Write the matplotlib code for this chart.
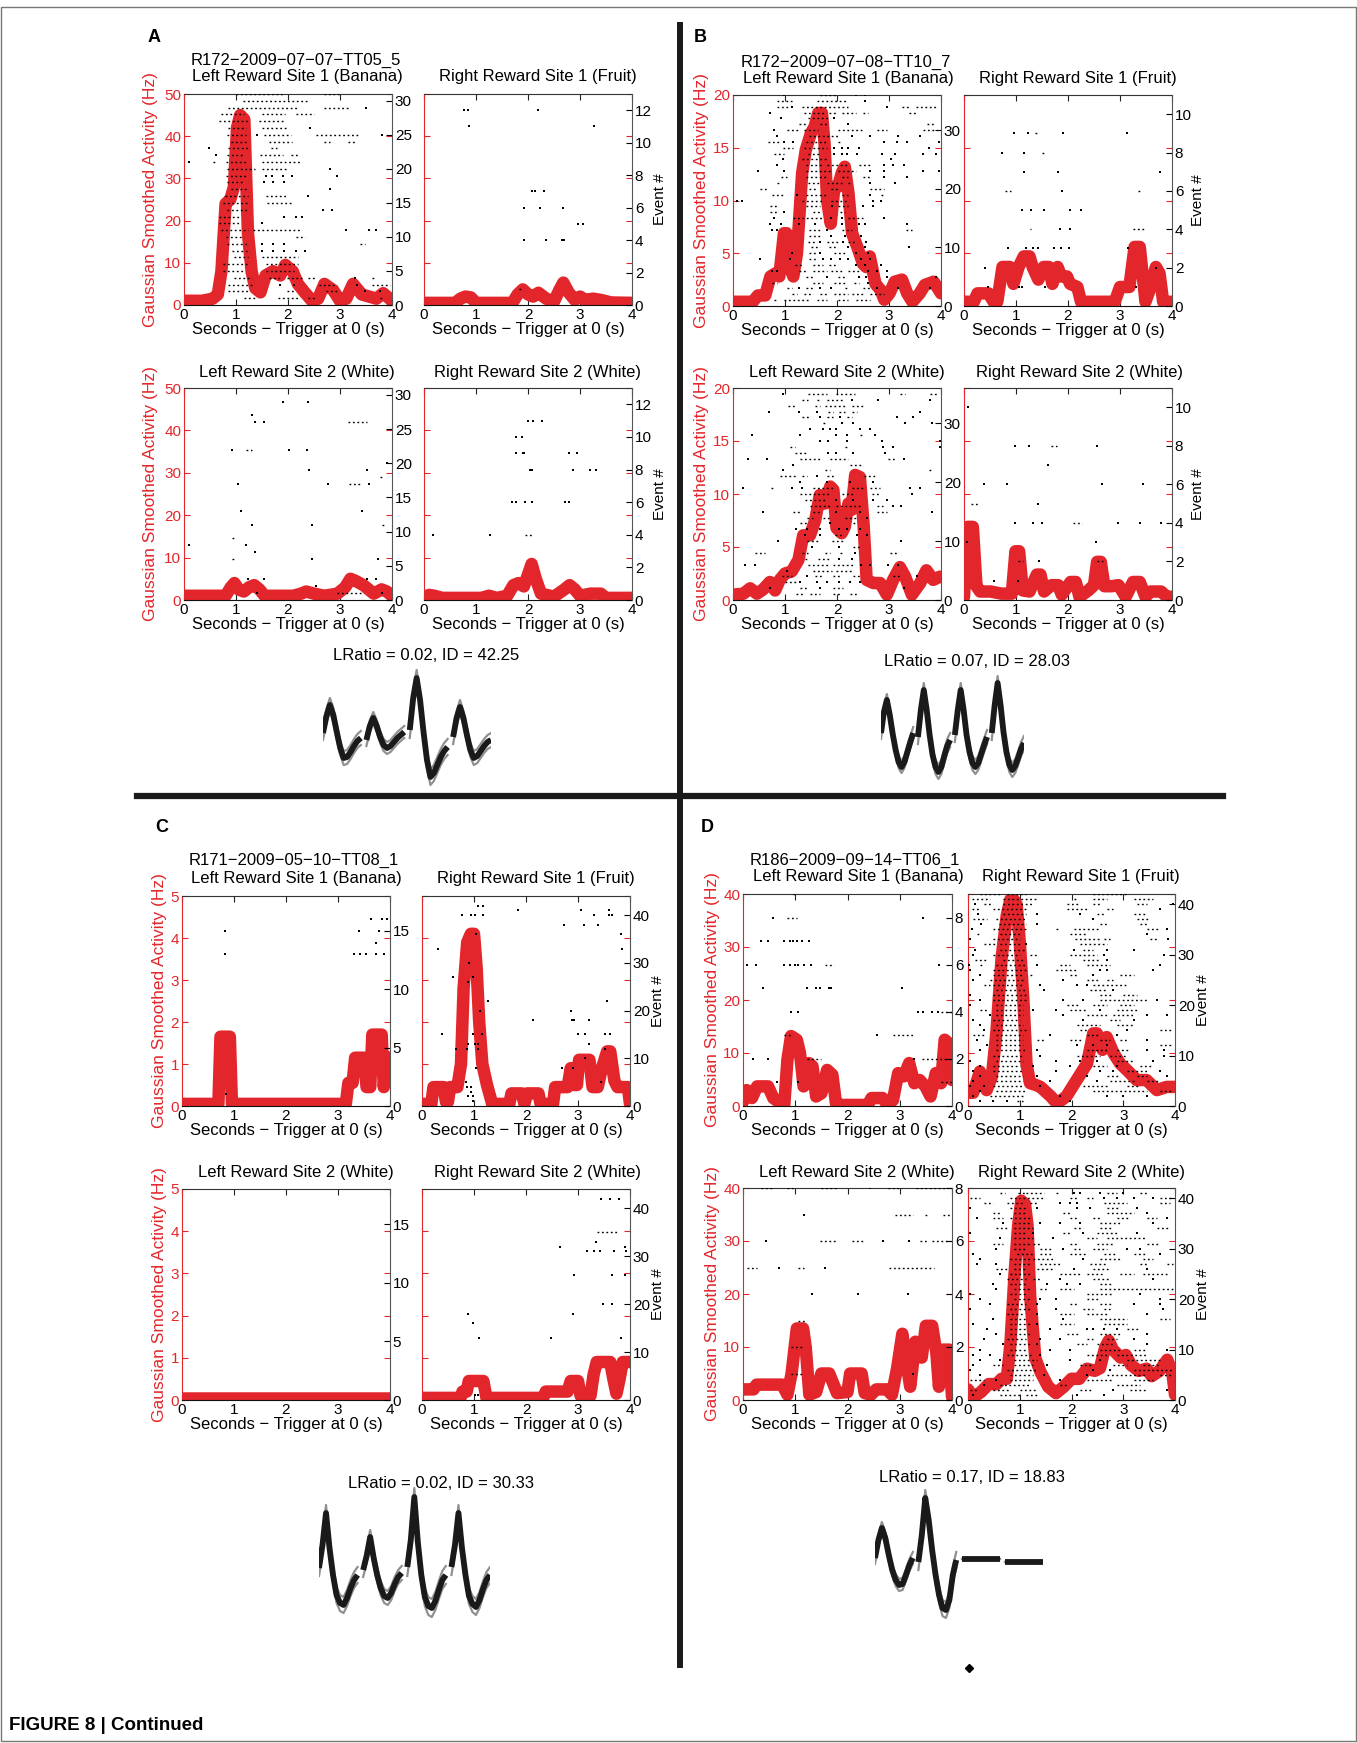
import matplotlib.pyplot as plt
from matplotlib.patches import Rectangle
from matplotlib.lines import Line2D

plt.rcParams['font.family'] = ['Liberation Sans', 'DejaVu Sans']

W, H = 1357, 1743
RED = '#e3262b'
FS = 11      # tick labels
FT = 12      # titles / axis labels
MINUS = '\u2212'

# ---------------- smoothed rate curves (Hz) ----------------
a_l1_t = [0, 0.35, 0.55, 0.65, 0.72, 0.8, 0.89, 0.96, 1.02, 1.08, 1.16, 1.23, 1.3, 1.37, 1.47, 1.57, 1.71, 1.85,
          1.95, 2.09, 2.19, 2.32, 2.46, 2.58, 2.7, 2.87, 3.0, 3.12, 3.25, 3.42, 3.56, 3.7, 3.83, 4.0]
a_l1_r = [1, 1, 1.5, 2.5, 8, 24, 25, 28, 42, 45, 44, 17, 8, 4, 3, 7, 8, 7, 9.5, 8, 5, 3, 1, 1.5, 5, 3.5, 1, 1.5,
          5, 2.5, 2, 1.5, 2.8, 1]
a_r1_t = [0, 0.6, 0.7, 0.8, 0.9, 1.0, 1.7, 1.8, 1.9, 2.0, 2.1, 2.2, 2.35, 2.5, 2.6, 2.68, 2.78, 2.9, 3.0, 3.1,
          3.25, 3.4, 3.6, 4.0]
a_r1_r = [0.5, 0.5, 1.5, 2, 1.8, 0.5, 0.5, 2.5, 3.7, 2.5, 2, 2.9, 1.5, 0.8, 3.5, 5.3, 3, 1.2, 2, 1.2, 1.5, 1.2,
          0.6, 0.5]
a_l2_t = [0, 0.8, 0.9, 0.97, 1.05, 1.15, 1.25, 1.35, 1.45, 1.55, 1.8, 2.1, 2.25, 2.35, 2.5, 2.7, 2.95, 3.1, 3.2,
          3.3, 3.45, 3.55, 3.65, 3.8, 3.9, 4.0]
a_l2_r = [1, 1, 3, 4, 2.5, 2, 3, 3.5, 2.5, 1, 1, 1, 1.5, 2, 1.5, 1, 1.5, 3, 5, 4.5, 3.5, 2.5, 1.5, 2.5, 2, 1]
a_r2_t = [0, 0.1, 0.2, 0.35, 1.1, 1.25, 1.4, 1.6, 1.72, 1.82, 1.92, 2.0, 2.07, 2.15, 2.25, 2.5, 2.7, 2.8, 2.9,
          3.0, 3.2, 3.4, 3.5, 4.0]
a_r2_r = [0.7, 1.2, 1, 0.5, 0.5, 1, 0.5, 1, 3.5, 4, 3.2, 6, 8.5, 5, 1.5, 0.8, 2.5, 3.5, 2.5, 1, 1.5, 1.5, 0.5, 0.5]

b_l1_t = [0, 0.38, 0.48, 0.62, 0.72, 0.82, 0.89, 0.98, 1.03, 1.09, 1.16, 1.23, 1.33, 1.4, 1.5, 1.57, 1.64, 1.71,
          1.76, 1.81, 1.88, 1.95, 2.02, 2.09, 2.15, 2.22, 2.29, 2.39, 2.5, 2.56, 2.63, 2.74, 2.84, 2.91, 3.01,
          3.11, 3.25, 3.35, 3.45, 3.59, 3.69, 3.86, 4.0]
b_l1_r = [0.4, 0.4, 1, 1, 2.8, 3.1, 2.8, 6.9, 6.9, 3.7, 2.8, 5, 12.6, 14.8, 16.4, 17, 18.3, 18.3, 15.4, 10, 7.8,
          11.3, 11.3, 12.6, 13.2, 10.7, 6.9, 5.6, 4, 3.7, 4.7, 2.1, 1.5, 0.6, 1.2, 2.3, 2.5, 1.2, 0.4, 1.2, 2,
          2.3, 1.2]
b_r1_t = [0, 0.19, 0.26, 0.47, 0.57, 0.64, 0.74, 0.88, 0.95, 1.05, 1.15, 1.26, 1.32, 1.43, 1.53, 1.63, 1.7, 1.8,
          1.87, 1.98, 2.04, 2.18, 2.25, 2.9, 3.0, 3.18, 3.28, 3.38, 3.49, 3.59, 3.69, 3.76, 3.83, 4.0]
b_r1_r = [0.4, 0.4, 1.2, 1.2, 0.4, 0.4, 3.7, 3.7, 2.1, 3.7, 4.7, 4.7, 3.7, 2.5, 3.7, 3.7, 2.1, 3.7, 2.8, 2.8,
          2.1, 1.8, 0.4, 0.4, 1.8, 1.8, 5.6, 5.6, 0.4, 1.8, 3.7, 3.1, 0.4, 0.4]
b_l2_t = [0, 0.2, 0.33, 0.46, 0.58, 0.71, 0.81, 0.9, 1.0, 1.13, 1.26, 1.35, 1.48, 1.58, 1.67, 1.77, 1.87, 1.93,
          1.99, 2.09, 2.15, 2.22, 2.28, 2.35, 2.44, 2.51, 2.57, 2.7, 2.83, 2.96, 3.08, 3.21, 3.31, 3.44, 3.6,
          3.72, 3.85, 3.98]
b_l2_r = [0.5, 0.6, 1.1, 0.6, 1, 1.7, 0.9, 1.9, 2.5, 2.7, 3.8, 6.1, 6.1, 7.5, 9.9, 9.1, 10.7, 10.4, 6.8, 6.3,
          6.9, 9.1, 8.5, 11.8, 11.6, 7.2, 1.9, 1.6, 1.6, 0.5, 1.9, 3.1, 2.2, 0.5, 1.6, 2.8, 1.9, 2.2]
b_r2_t = [0, 0.07, 0.17, 0.24, 0.31, 0.51, 0.72, 0.92, 0.99, 1.06, 1.13, 1.26, 1.4, 1.47, 1.54, 1.68, 1.81, 1.88,
          2.05, 2.15, 2.22, 2.39, 2.5, 2.56, 2.63, 2.7, 2.84, 2.97, 3.11, 3.25, 3.38, 3.49, 3.59, 3.79, 3.9, 4.0]
b_r2_r = [0.3, 6.9, 6.9, 1.3, 0.8, 0.8, 0.6, 0.6, 4.6, 4.6, 0.9, 0.8, 2.4, 2.4, 0.8, 1.4, 1.4, 0.5, 1.7, 1.7,
          0.3, 0.9, 1.4, 3.6, 3.6, 1.3, 1.3, 1.4, 0.3, 1.7, 1.7, 0.3, 0.8, 0.8, 0.3, 0.3]

c_l1_t = [0, 0.7, 0.74, 0.92, 0.96, 3.15, 3.2, 3.28, 3.33, 3.5, 3.55, 3.62, 3.66, 3.84, 3.88, 3.94, 4.0]
c_l1_r = [0.05, 0.05, 1.65, 1.65, 0.05, 0.05, 0.55, 0.55, 1.15, 1.15, 0.45, 0.45, 1.7, 1.7, 0.45, 1.15, 1.15]
c_r1_t = [0, 0.18, 0.22, 0.42, 0.46, 0.5, 0.54, 0.68, 0.75, 0.8, 0.87, 0.94, 1.0, 1.05, 1.1, 1.16, 1.25, 1.35,
          1.68, 1.72, 1.92, 1.97, 2.02, 2.24, 2.28, 2.52, 2.56, 2.8, 2.86, 2.92, 2.98, 3.02, 3.22, 3.28, 3.38,
          3.46, 3.56, 3.62, 3.7, 3.76, 3.96, 4.0]
c_r1_r = [0.05, 0.05, 0.45, 0.45, 0.1, 0.1, 0.45, 0.45, 1.0, 2.8, 3.9, 4.1, 4.1, 3.3, 2.0, 1.0, 0.5, 0.05, 0.05,
          0.3, 0.3, 0.05, 0.3, 0.3, 0.05, 0.05, 0.45, 0.45, 0.9, 0.5, 0.5, 1.1, 1.1, 0.45, 0.45, 0.9, 1.3, 1.3,
          0.6, 0.45, 0.45, 0.05]
c_l2_t = [0, 4.0]
c_l2_r = [0.05, 0.05]
c_r2_t = [0, 0.74, 0.78, 0.86, 0.9, 1.18, 1.24, 2.33, 2.38, 2.8, 2.86, 3.0, 3.05, 3.24, 3.3, 3.36, 3.44, 3.62,
          3.68, 3.74, 3.8, 3.86, 4.0]
c_r2_r = [0.05, 0.05, 0.2, 0.2, 0.45, 0.45, 0.05, 0.05, 0.2, 0.2, 0.45, 0.45, 0.1, 0.1, 0.6, 0.9, 0.9, 0.9, 0.5,
          0.15, 0.5, 0.9, 0.9]

d_l1_t = [0, 0.07, 0.17, 0.27, 0.48, 0.58, 0.68, 0.79, 0.85, 0.92, 1.03, 1.09, 1.16, 1.26, 1.33, 1.4, 1.5, 1.61,
          1.71, 1.78, 1.85, 2.39, 2.46, 2.67, 2.77, 2.87, 2.97, 3.08, 3.18, 3.28, 3.38, 3.49, 3.59, 3.69, 3.79,
          3.86, 3.93, 4.0]
d_l1_r = [0.8, 3, 1.5, 3.7, 3.7, 1.5, 0.8, 0.2, 8.7, 13.2, 12.5, 10, 3.7, 8.1, 7.5, 1.8, 2.4, 6.8, 5.9, 0.5,
          0.2, 0.2, 1.5, 1.5, 0.2, 1.1, 6.2, 5.6, 8.1, 4.3, 4.9, 3.7, 1.8, 6.2, 4.3, 12.5, 11.9, 4.9]
d_r1_t = [0, 0.1, 0.23, 0.36, 0.46, 0.55, 0.65, 0.75, 0.82, 0.88, 0.94, 1.0, 1.07, 1.13, 1.2, 1.3, 1.4, 1.6, 1.72,
          1.9, 2.1, 2.3, 2.42, 2.49, 2.6, 2.68, 2.81, 2.94, 3.07, 3.26, 3.45, 3.65, 3.84, 4.0]
d_r1_r = [2.5, 2.5, 6.5, 3, 5.5, 14, 28, 36, 39, 39, 38, 31, 20, 8, 4.3, 4, 3.6, 1.8, 0.5, 1.8, 4.9, 8, 13.7,
          13.7, 10.6, 13, 10, 8, 6.8, 4.9, 4.9, 3, 3.6, 3.6]
d_l2_t = [0, 0.2, 0.26, 0.75, 0.85, 0.93, 1.03, 1.15, 1.2, 1.27, 1.4, 1.5, 1.65, 1.8, 2.0, 2.05, 2.27, 2.33, 2.45,
          2.55, 2.75, 2.85, 2.95, 3.05, 3.13, 3.2, 3.3, 3.42, 3.5, 3.62, 3.7, 3.75, 3.82, 3.95, 4.0]
d_l2_r = [2, 2, 2.9, 2.9, 1, 5, 13.5, 13.5, 10, 1, 1.5, 5, 5, 1.3, 1.5, 5, 5, 1.3, 1, 2, 2, 1, 6, 12.5, 7, 2.5,
          11, 8, 14, 14, 9, 2.5, 9.5, 9.5, 0.6]
d_r2_t = [0, 0.1, 0.25, 0.4, 0.55, 0.65, 0.75, 0.82, 0.9, 0.97, 1.03, 1.1, 1.15, 1.2, 1.3, 1.4, 1.55, 1.7, 1.85,
          2.0, 2.15, 2.3, 2.45, 2.55, 2.65, 2.72, 2.8, 2.95, 3.05, 3.15, 3.3, 3.45, 3.55, 3.7, 3.85, 3.95, 4.0]
d_r2_r = [2, 0.5, 1.5, 3, 3, 4, 4, 10.6, 23.8, 33, 37.6, 37, 33, 19.8, 7.9, 5.3, 2.5, 1.3, 2.5, 4, 4, 5.9, 5.5,
          6, 9.9, 11.2, 9.5, 8, 8.5, 6.6, 5.5, 5.9, 4.5, 5.5, 7.6, 5, 1]

# ---------------- spike rasters: (event, t) single spike, (event, t0, t1) burst ----------------
a_l1_spk = [(31, 1.0, 1.9), (31, 2.7, 3.0), (30, 1.13, 2.36), (29, 0.85, 2.2), (29, 2.7, 3.2), (29, 3.5),
            (28, 0.72, 1.16), (28, 1.5, 1.95), (28, 2.15, 2.5), (27, 0.68, 1.23), (27, 1.44, 1.95),
            (26, 0.85, 1.2), (26, 1.5, 2.0), (26, 2.43), (25, 0.82, 1.2), (25, 1.4), (25, 1.54, 2.05),
            (25, 2.53, 3.35), (25, 3.8), (24, 0.9, 1.23), (24, 1.64, 2.08), (24, 2.7, 2.8), (24, 3.15, 3.28),
            (23, 0.48), (23, 0.85, 1.23), (23, 1.68, 1.78), (22, 0.62), (22, 0.82, 1.16), (22, 1.47, 1.9),
            (22, 2.05, 2.19), (21, 0.1), (21, 0.55, 0.62), (21, 0.8, 1.23), (21, 1.5, 2.25), (20, 0.82, 1.37),
            (20, 1.5, 1.98), (20, 2.8), (19, 0.8, 1.23), (19, 1.57), (19, 1.7), (19, 1.9), (19, 2.08),
            (19, 2.94), (18, 0.82, 1.16), (18, 1.54), (18, 1.71), (18, 1.92), (17, 0.9, 1.23), (17, 2.8),
            (16, 0.78, 1.23), (16, 1.57, 1.98), (16, 2.39), (15, 0.75, 1.23), (15, 1.6, 2.05), (14, 0.82, 1.23),
            (14, 2.67), (14, 2.84), (13, 0.68, 1.1), (13, 1.92), (13, 2.15), (13, 2.26), (12, 0.68, 1.1),
            (12, 1.5), (11, 0.72, 1.23), (11, 1.33, 2.26), (11, 3.11), (11, 3.56), (11, 3.69), (10, 0.8, 1.16),
            (10, 2.15, 2.33), (9, 0.82, 1.23), (9, 1.5), (9, 1.71), (9, 1.92), (9, 3.38, 3.49), (8, 0.92, 1.23),
            (8, 1.5), (8, 1.71), (8, 1.92), (8, 2.15), (8, 2.33), (7, 0.96, 1.23), (7, 1.5, 2.19),
            (6, 0.75, 1.23), (6, 1.57, 2.19), (5, 0.75, 1.16), (5, 1.57, 2.12), (4, 0.96, 1.3), (4, 1.64, 1.85),
            (4, 1.98, 2.26), (4, 2.39, 2.53), (4, 3.28), (4, 3.62, 3.69), (3, 0.85, 1.3), (3, 1.85), (3, 2.12),
            (3, 2.6, 2.94), (3, 3.32), (3, 3.62, 3.97), (2, 0.85, 1.23), (2, 1.98, 2.12), (2, 2.74, 2.94),
            (2, 3.49), (2, 3.76), (1, 1.16, 1.37), (1, 1.81, 2.19), (1, 2.39, 2.53), (1, 3.76, 3.83)]
a_r1_spk = [(12, 0.77), (12, 0.84), (12, 2.19), (11, 0.86), (11, 3.27), (7, 2.07), (7, 2.14), (7, 2.3),
            (6, 1.93), (6, 2.24), (6, 2.68), (5, 2.96), (5, 3.05), (4, 1.93), (4, 2.34), (4, 2.65), (4, 2.7),
            (1, 1.83, 1.9)]
a_l2_spk = [(29, 1.91), (29, 2.39), (27, 1.3), (26, 1.37), (26, 1.54), (26, 3.15, 3.52), (22, 0.92),
            (22, 1.2, 1.3), (22, 2.02), (22, 2.37), (20, 3.9), (19, 2.41), (19, 3.52), (18, 3.76, 3.83),
            (17, 1.03), (17, 2.77), (17, 3.18, 3.42), (17, 3.56), (13, 1.09), (13, 3.42), (11, 1.3), (11, 2.46),
            (11, 3.8, 3.86), (9, 0.92, 0.99), (8, 0.1), (8, 1.2), (7, 1.37), (6, 0.92, 0.99), (6, 2.46),
            (6, 3.73), (3, 1.23), (3, 1.54), (3, 3.52), (3, 3.69), (2, 2.53), (1, 1.4), (1, 2.94, 3.42),
            (1, 3.8)]
a_r2_spk = [(11, 2.0), (11, 2.1), (11, 2.27), (10, 1.76), (10, 1.88), (9, 1.77), (9, 1.9), (9, 1.93),
            (9, 2.79), (9, 2.94), (8, 2.03), (8, 2.07), (8, 2.86), (8, 3.2), (8, 3.3), (6, 1.69), (6, 1.76),
            (6, 1.95), (6, 2.07), (6, 2.72), (6, 2.79), (4, 0.17), (4, 1.27), (4, 1.95, 2.1)]

b_l1_spk = [(36, 0.99), (36, 1.68, 2.02), (36, 2.36), (36, 2.53), (35, 0.85, 1.13), (35, 1.61, 2.22), (35, 2.53),
            (34, 0.85, 1.06), (34, 1.13), (34, 1.33, 2.22), (34, 2.97), (34, 3.25, 3.38), (34, 3.52, 3.93),
            (33, 0.72), (33, 1.37, 1.78), (33, 1.85, 1.98), (33, 2.09, 2.36), (33, 2.5, 2.6), (33, 3.38, 3.52),
            (32, 0.92), (32, 1.44, 1.85), (32, 1.95), (31, 1.26, 1.4), (31, 1.68, 1.81), (31, 2.22),
            (31, 3.73, 3.86), (30, 0.79), (30, 1.03, 1.26), (30, 1.37, 1.64), (30, 2.02, 2.5), (30, 2.77, 2.97),
            (30, 3.66, 3.93), (29, 0.85), (29, 1.47, 2.05), (29, 2.29), (29, 2.63), (29, 3.18), (29, 3.59),
            (28, 0.68, 0.92), (28, 0.99), (28, 1.16), (28, 1.4, 1.81), (28, 2.02, 2.09), (28, 2.91), (28, 3.15),
            (28, 3.35), (28, 3.97), (27, 0.96, 1.16), (27, 1.37, 1.81), (27, 1.95), (27, 2.09), (27, 2.22),
            (27, 2.43), (27, 3.76), (26, 0.79, 0.99), (26, 1.44, 1.68), (26, 1.95), (26, 2.09), (26, 2.19),
            (26, 2.39), (26, 2.87), (26, 3.11), (26, 3.66), (26, 3.9), (25, 0.96), (25, 1.33, 1.81), (25, 3.04),
            (24, 0.85), (24, 1.4, 1.74), (24, 1.81, 2.22), (24, 2.43, 2.63), (24, 2.91), (24, 3.08), (24, 3.28),
            (23, 0.48), (23, 0.99), (23, 1.4, 1.88), (23, 2.02, 2.36), (23, 2.63), (23, 2.91), (23, 3.66),
            (23, 3.97), (22, 0.92, 1.03), (22, 1.4, 1.81), (22, 2.09, 2.22), (22, 2.5, 2.63), (22, 2.91),
            (22, 3.35), (21, 0.85, 0.92), (21, 1.44, 1.68), (21, 1.81, 2.09), (21, 2.22, 2.29), (21, 2.63),
            (21, 3.11), (20, 0.51, 0.68), (20, 1.47, 1.61), (20, 1.88, 2.02), (20, 2.63, 2.91), (19, 0.75, 0.96),
            (19, 1.23), (19, 1.4, 1.81), (19, 2.09, 2.22), (19, 2.63), (19, 2.84, 2.91), (18, 0.07), (18, 0.17),
            (18, 1.33, 1.74), (18, 1.88, 2.22), (18, 2.7), (18, 2.84), (17, 0.72, 0.85), (17, 1.4, 1.68),
            (17, 1.91), (17, 2.02, 2.22), (17, 2.5), (17, 2.7), (16, 0.72, 0.85), (16, 0.99), (16, 1.54, 1.68),
            (16, 2.05, 2.15), (15, 0.79), (15, 1.16, 1.74), (15, 1.88), (15, 2.09), (15, 2.22, 2.5), (15, 2.91),
            (14, 0.72), (14, 0.92), (14, 1.26), (14, 1.57), (14, 2.09), (14, 2.43), (14, 2.53), (14, 3.35),
            (13, 0.75), (13, 0.85), (13, 1.47, 1.68), (13, 1.81), (13, 2.09, 2.29), (13, 3.32, 3.45),
            (12, 1.47, 1.68), (12, 1.88), (12, 2.15), (12, 2.46), (11, 1.44, 1.61), (11, 1.68), (11, 1.81, 2.02),
            (11, 2.12), (11, 2.22, 2.36), (11, 2.56), (10, 1.5, 1.68), (10, 1.85, 2.02), (10, 2.22), (10, 2.53),
            (10, 3.38), (9, 1.13), (9, 1.47, 1.61), (9, 1.68), (9, 1.95, 2.15), (9, 2.36), (9, 2.6), (8, 0.51),
            (8, 1.09), (8, 1.47, 1.61), (8, 1.74), (8, 1.88), (8, 2.05), (8, 2.22), (8, 2.46), (8, 2.63),
            (7, 1.2, 1.33), (7, 1.54, 1.74), (7, 1.85, 2.02), (7, 2.36), (7, 2.53), (7, 2.84), (6, 0.75),
            (6, 0.85), (6, 1.26, 1.4), (6, 1.54, 1.81), (6, 1.88, 2.09), (6, 2.22, 2.43), (6, 2.6), (6, 2.77),
            (6, 2.97), (5, 1.4, 1.54), (5, 1.81), (5, 2.02, 2.15), (5, 2.43), (5, 2.56), (5, 2.97), (5, 3.9),
            (4, 0.75, 0.85), (4, 1.54, 1.74), (4, 1.95, 2.15), (4, 2.32, 2.43), (4, 2.6), (3, 1.03, 1.13),
            (3, 1.26), (3, 1.4, 1.54), (3, 1.68), (3, 1.88), (3, 2.15, 2.22), (3, 2.5, 2.67), (3, 2.77),
            (3, 3.18), (3, 3.79), (2, 1.13, 1.23), (2, 1.37, 1.54), (2, 1.68, 1.81), (2, 1.95, 2.22),
            (2, 2.29, 2.5), (2, 2.63, 2.91), (1, 0.79, 0.85), (1, 0.99, 1.47), (1, 1.61, 1.81), (1, 2.02, 2.22),
            (1, 2.36, 2.63)]
b_r1_spk = [(9, 0.96), (9, 1.24), (9, 1.37, 1.43), (9, 1.91), (9, 3.13), (8, 0.74), (8, 1.15), (8, 1.5, 1.56),
            (7, 1.15), (7, 1.8), (7, 3.76), (6, 0.78, 0.91), (6, 1.89), (6, 3.35, 3.42), (5, 1.12), (5, 1.29),
            (5, 1.53), (5, 2.04), (5, 2.25), (4, 1.26, 1.29), (4, 1.84), (4, 2.04), (4, 3.25, 3.49), (3, 0.84),
            (3, 1.19), (3, 1.32), (3, 1.43), (3, 1.74), (3, 1.87), (3, 2.01), (3, 3.16), (2, 0.4), (2, 3.69),
            (1, 0.47), (1, 1.05), (1, 1.12), (1, 1.56), (1, 3.31)]
b_l2_spk = [(35, 0.97), (35, 1.45, 1.8), (35, 1.99, 2.35), (35, 3.21, 3.31), (35, 3.79, 3.95), (34, 1.32, 1.45),
            (34, 1.61, 1.67), (34, 1.8, 2.12), (34, 2.28), (34, 2.79), (34, 3.79), (33, 1.06, 1.22),
            (33, 1.58, 1.67), (33, 1.77, 2.15), (33, 2.28, 2.54), (32, 0.7), (32, 1.26), (32, 1.61),
            (32, 1.83, 1.93), (32, 2.03, 2.15), (32, 2.28, 2.38), (32, 3.6), (31, 1.32, 1.48), (31, 1.67),
            (31, 1.8, 1.93), (31, 2.06), (31, 2.19, 2.28), (31, 3.15), (31, 3.47), (30, 1.74, 1.8), (30, 2.09),
            (30, 2.31), (30, 3.31), (30, 3.82), (29, 1.48), (29, 1.74), (29, 1.87), (29, 1.99), (29, 2.44),
            (29, 2.63), (28, 0.36), (28, 1.29), (28, 1.99), (28, 2.19), (28, 2.44, 2.51), (28, 2.73), (27, 1.67),
            (27, 1.83), (27, 2.19), (27, 2.86), (27, 3.98), (26, 1.1, 1.19), (26, 2.15, 2.22), (26, 2.89),
            (26, 3.08), (26, 3.98), (25, 1.19, 1.42), (25, 1.83), (25, 1.99), (25, 2.31), (25, 2.92), (24, 0.29),
            (24, 0.65), (24, 1.29, 1.67), (24, 1.87, 2.22), (24, 2.99, 3.12), (24, 3.28), (23, 1.16),
            (23, 2.25, 2.47), (22, 0.97), (22, 1.77, 1.87), (22, 3.76, 3.85), (21, 0.9, 1.22), (21, 1.32, 1.42),
            (21, 1.61), (21, 1.8, 1.96), (21, 2.51, 2.76), (20, 1.29), (20, 1.8), (20, 2.25), (20, 2.7),
            (19, 0.2), (19, 0.74, 0.81), (19, 1.13), (19, 1.32), (19, 1.54, 1.96), (19, 2.28, 2.51),
            (19, 2.63, 2.83), (19, 3.4), (19, 3.6), (18, 1.29, 1.87), (18, 2.09, 2.31), (18, 2.67, 2.83),
            (18, 3.44), (17, 1.38, 1.8), (17, 1.99), (17, 2.31), (17, 2.7), (17, 2.96), (16, 1.48, 1.87),
            (16, 1.99, 2.44), (16, 2.76, 2.89), (16, 3.08), (16, 3.24), (15, 0.58), (15, 1.16, 1.29),
            (15, 1.54, 1.67), (15, 1.99), (15, 2.44), (15, 2.76, 2.96), (15, 3.82), (14, 1.42, 1.54),
            (14, 1.74, 1.87), (14, 2.15, 2.38), (14, 2.57), (13, 1.29, 1.42), (13, 1.87), (13, 2.31, 2.38),
            (12, 1.22), (12, 1.42), (12, 1.67), (12, 2.03), (12, 2.19), (12, 2.44), (11, 1.38), (11, 1.67),
            (11, 1.96, 2.12), (11, 2.38), (11, 2.57), (10, 0.87), (10, 1.42, 1.67), (10, 1.9, 2.12), (10, 3.24),
            (9, 1.51), (9, 2.03), (9, 2.31, 2.44), (8, 0.42, 0.62), (8, 1.32, 1.45), (8, 1.77, 1.87),
            (8, 2.06, 2.12), (8, 2.35), (8, 3.02, 3.15), (7, 1.38, 1.45), (7, 1.64, 1.87), (7, 2.03), (7, 2.28),
            (6, 0.23), (6, 0.42), (6, 1.45, 1.87), (6, 1.93, 2.31), (6, 2.47), (6, 2.63), (6, 2.99), (6, 3.18),
            (5, 1.03), (5, 1.54, 1.9), (5, 1.99, 2.31), (4, 0.94, 1.13), (4, 1.42), (4, 1.58, 1.74),
            (4, 1.93, 2.06), (4, 2.31, 2.44), (4, 3.08, 3.21), (4, 3.53), (3, 1.0, 1.22), (3, 1.29), (3, 1.61),
            (3, 1.8), (3, 2.03), (3, 2.25), (3, 2.44), (2, 0.71), (2, 1.29, 1.42), (2, 1.67), (2, 1.93, 2.12),
            (2, 3.28), (1, 1.22, 1.35), (1, 1.48, 1.67), (1, 1.93, 2.06), (1, 2.25, 2.38)]
b_r2_spk = [(10, 0.07), (8, 0.99), (8, 1.25), (8, 1.68, 1.78), (8, 2.56), (7, 1.61), (6, 0.38), (6, 0.82),
            (6, 2.65), (6, 3.45), (5, 0.14, 0.27), (5, 1.42), (4, 0.98), (4, 1.32), (4, 1.5), (4, 2.09, 2.26),
            (4, 2.97), (4, 3.38), (4, 3.79), (3, 0.05), (3, 2.53), (2, 1.03, 1.13), (2, 1.44), (2, 2.56, 2.67),
            (1, 0.58), (1, 1.03)]

c_l1_spk = [(16, 3.64), (16, 3.85), (16, 3.95), (15, 0.83), (15, 3.4), (15, 3.79), (14, 3.74), (13, 0.83),
            (13, 3.3), (13, 3.43), (13, 3.54), (13, 3.74), (13, 3.88), (1, 0.85)]
c_r1_spk = [(42, 1.08), (42, 1.18), (41, 1.84), (41, 3.05), (41, 3.59), (40, 0.77), (40, 0.94), (40, 1.01),
            (40, 1.18), (40, 3.31), (40, 3.59), (40, 3.66), (38, 2.73), (38, 3.11), (38, 3.38), (36, 1.04),
            (36, 3.83), (33, 0.3), (33, 3.85), (30, 0.91), (27, 0.6), (27, 0.98), (26, 0.89), (22, 1.26),
            (22, 3.55), (20, 1.11), (20, 2.87), (18, 2.14), (18, 2.89), (18, 2.93), (18, 3.21), (15, 0.39),
            (15, 0.98), (15, 1.15), (15, 3.0), (15, 3.14), (15, 3.52), (15, 3.62), (13, 0.89), (13, 1.01),
            (13, 1.08), (13, 3.21), (12, 0.65), (12, 0.87), (12, 1.08), (12, 3.52), (10, 3.14), (8, 1.03),
            (8, 2.69), (8, 2.9), (5, 0.84), (5, 3.45), (4, 0.87), (4, 0.94), (3, 0.94), (2, 0.89), (2, 0.98),
            (1, 0.98)]
c_l2_spk = []
c_r2_spk = [(42, 3.45), (42, 3.62), (42, 3.79), (35, 3.37, 3.79), (33, 3.35), (32, 2.65), (32, 3.9), (31, 3.18),
            (31, 3.31), (31, 3.42), (31, 3.69), (31, 3.93), (26, 2.93), (26, 3.66), (26, 3.9), (20, 3.48),
            (20, 3.66), (18, 0.89), (18, 2.9), (16, 0.99), (13, 1.1), (13, 2.49), (13, 3.83), (1, 1.01),
            (1, 1.08)]

d_l1_spk = [(9, 0.96, 0.99), (8, 0.58), (8, 0.85, 1.03), (8, 3.44), (7, 0.34), (7, 0.48), (7, 0.79), (7, 0.89),
            (7, 0.96), (7, 1.03), (7, 1.13), (7, 1.26), (6, 0.07), (6, 0.24), (6, 0.79), (6, 0.89), (6, 0.99),
            (6, 1.06), (6, 1.16), (6, 1.3), (6, 1.57, 1.74), (6, 3.76), (5, 0.38), (5, 1.23), (5, 1.4), (5, 1.47),
            (5, 1.64), (5, 1.68), (5, 3.04), (4, 0.92), (4, 1.06), (4, 3.35), (4, 3.45), (4, 3.62), (4, 3.73),
            (4, 3.79, 4.0), (3, 0.79, 0.96), (3, 2.56), (3, 2.87, 3.28), (2, 0.2), (2, 0.48), (2, 1.23, 1.5),
            (2, 3.28), (2, 3.42, 3.93), (1, 0.65), (1, 1.06), (1, 3.79, 4.0)]
d_r1_spk = [(42, 0.23, 0.62), (42, 0.75, 1.13), (42, 2.42, 3.07), (41, 0.07, 0.43), (41, 0.68, 1.33),
            (41, 2.04, 2.1), (41, 2.42, 2.68), (41, 3.2, 3.58), (40, 0.14), (40, 0.3, 0.49), (40, 0.68, 1.26),
            (40, 1.91, 2.16), (40, 2.42, 2.55), (40, 3.26, 3.45), (40, 3.97), (39, 0.07, 0.23), (39, 0.49, 1.13),
            (39, 1.91, 2.29), (39, 2.68, 2.81), (39, 3.71), (38, 0.2), (38, 0.68, 1.13), (38, 1.33), (38, 2.16),
            (38, 2.49, 2.62), (38, 3.2, 3.45), (37, 0.1, 0.36), (37, 0.55, 1.13), (37, 2.42), (37, 3.26, 3.52),
            (36, 0.26), (36, 0.59, 1.13), (36, 1.33), (36, 2.55, 2.68), (36, 3.32, 3.45), (35, 0.07),
            (35, 0.49, 1.13), (35, 1.71, 1.78), (35, 2.04, 2.55), (35, 3.45, 3.71), (35, 3.84), (34, 0.17, 0.23),
            (34, 0.62, 1.04), (34, 1.97, 2.29), (34, 3.45), (33, 0.04), (33, 0.49, 1.0), (33, 2.07, 2.55),
            (33, 2.62, 2.74), (33, 3.52, 3.65), (33, 3.87), (32, 0.3, 0.55), (32, 0.62, 1.04), (32, 1.13),
            (32, 2.16, 2.68), (31, 0.14), (31, 0.62, 1.13), (31, 2.04), (31, 2.23, 2.42), (31, 2.68), (31, 3.2),
            (30, 0.1), (30, 0.49, 1.0), (30, 1.2, 1.33), (30, 1.97, 2.49), (30, 2.62), (30, 3.78),
            (29, 0.14, 0.36), (29, 0.68, 1.07), (29, 2.23, 2.55), (29, 2.68), (28, 0.01), (28, 0.23, 0.3),
            (28, 0.55, 1.13), (28, 1.33), (28, 1.78, 1.97), (28, 2.29, 2.74), (28, 3.71), (27, 0.04),
            (27, 0.49, 1.13), (27, 1.71, 2.1), (27, 2.55), (27, 2.68), (27, 3.58), (26, 0.23), (26, 0.49, 1.07),
            (26, 1.2, 1.26), (26, 1.97, 2.1), (26, 2.42), (26, 2.94, 3.2), (25, 0.1), (25, 0.43, 1.07),
            (25, 1.84), (25, 2.29, 2.55), (25, 2.68, 2.81), (24, 0.3, 0.43), (24, 0.49, 1.07), (24, 1.39),
            (24, 2.1), (24, 2.29), (24, 2.42, 3.07), (23, 0.55, 1.13), (23, 1.46), (23, 2.36, 2.68), (23, 2.81),
            (22, 0.04), (22, 0.49, 1.13), (22, 2.55, 2.81), (22, 3.0, 3.26), (21, 0.23), (21, 0.49, 1.13),
            (21, 1.84), (21, 2.23), (21, 2.55, 3.45), (21, 3.65), (20, 0.04), (20, 0.55, 1.07), (20, 1.91, 2.16),
            (20, 2.42, 2.68), (20, 2.94, 3.2), (19, 0.23, 0.36), (19, 0.55, 1.07), (19, 1.26), (19, 1.71),
            (19, 1.97, 2.29), (19, 2.55), (19, 2.87, 3.26), (18, 0.43), (18, 0.55, 1.07), (18, 1.84),
            (18, 2.29, 2.68), (18, 2.81, 3.2), (18, 3.45), (18, 3.84), (17, 0.1), (17, 0.49, 1.0), (17, 2.23),
            (17, 2.74, 2.94), (17, 3.2), (16, 0.23), (16, 0.55, 1.07), (16, 2.1, 2.55), (16, 2.87, 3.2),
            (15, 0.3), (15, 0.49, 1.13), (15, 2.16, 2.29), (15, 3.07), (15, 3.71, 3.97), (14, 0.1, 0.3),
            (14, 0.55, 1.07), (14, 1.58), (14, 2.29, 2.55), (14, 2.87), (13, 0.17), (13, 0.55, 1.07),
            (13, 1.33, 1.46), (13, 1.97, 2.23), (13, 2.55, 2.74), (13, 2.94, 3.07), (13, 3.45), (12, 0.36),
            (12, 0.55, 1.07), (12, 2.1), (12, 2.42), (12, 2.68), (12, 3.71, 3.97), (11, 0.23), (11, 0.55, 1.13),
            (11, 1.33), (11, 2.29, 2.68), (11, 2.87, 3.13), (11, 3.45), (11, 3.78), (10, 0.49, 1.07), (10, 1.39),
            (10, 2.1, 2.55), (10, 2.74, 3.07), (10, 3.78), (9, 0.04), (9, 0.55, 1.07), (9, 1.71), (9, 2.16),
            (9, 2.49), (9, 2.87, 3.2), (9, 3.58), (8, 0.23), (8, 0.49, 1.0), (8, 1.26), (8, 1.97),
            (8, 2.42, 2.68), (8, 2.87), (8, 3.32, 3.58), (7, 0.1), (7, 0.49, 1.07), (7, 1.71), (7, 2.55),
            (7, 2.81), (7, 3.07, 3.45), (7, 3.71), (6, 0.23), (6, 0.55, 1.07), (6, 1.33), (6, 2.29),
            (6, 2.68, 2.94), (6, 3.26, 3.45), (6, 3.84), (5, 0.1), (5, 0.55, 1.07), (5, 1.58), (5, 2.49),
            (5, 2.74, 3.2), (5, 3.45, 3.71), (4, 0.04), (4, 0.3), (4, 0.49, 1.07), (4, 1.39), (4, 2.23, 2.68),
            (4, 3.07, 3.32), (3, 0.23), (3, 0.55, 1.13), (3, 2.42, 3.45), (3, 3.71, 3.97), (2, 0.1),
            (2, 0.43, 1.07), (2, 1.78), (2, 2.68), (2, 3.0), (2, 3.45), (1, 0.23), (1, 0.49), (1, 0.75),
            (1, 0.94, 1.07), (1, 1.97)]
d_l2_spk = [(8, 0.34, 0.58), (8, 0.85, 0.99), (8, 1.5, 1.81), (8, 2.43), (8, 2.77, 3.04), (8, 3.32, 3.9),
            (7, 1.16), (7, 2.91, 3.25), (7, 3.49, 3.56), (7, 3.83, 3.97), (6, 0.44), (6, 1.47, 1.78),
            (6, 2.09, 2.32), (6, 2.67), (6, 3.18), (6, 3.38, 3.52), (6, 3.62, 3.97), (5, 0.07, 0.27), (5, 0.68),
            (5, 1.06, 1.16), (5, 1.57), (5, 2.8, 3.66), (4, 1.33), (4, 2.21), (4, 3.15), (3, 1.06, 1.2),
            (2, 0.92, 1.13), (1, 0.92, 1.16), (1, 3.25)]
d_r2_spk = [(41, 0.62, 0.72), (41, 0.97, 1.1), (41, 1.13, 1.46), (41, 1.71, 1.78), (41, 2.04), (41, 2.16),
            (41, 2.55), (41, 2.68, 2.87), (41, 3.0), (41, 3.32, 3.45), (40, 0.04, 0.23), (40, 0.81, 1.0),
            (40, 1.07, 1.46), (40, 1.97, 2.1), (40, 2.29, 2.42), (40, 2.62), (40, 2.87), (40, 3.2), (40, 3.58),
            (40, 3.71, 3.97), (39, 0.3, 0.49), (39, 0.75, 1.07), (39, 1.2, 1.33), (39, 1.78), (39, 1.97),
            (39, 2.1), (39, 2.62, 3.07), (39, 3.71, 3.9), (38, 0.04), (38, 0.81, 1.13), (38, 1.33), (38, 2.1),
            (38, 2.36), (38, 2.68, 2.94), (38, 3.26), (37, 0.49, 0.62), (37, 0.88, 1.13), (37, 1.84, 1.97),
            (37, 2.68, 3.2), (37, 3.45), (36, 0.17), (36, 0.49, 0.68), (36, 0.81, 1.2), (36, 1.97, 2.1),
            (36, 2.42, 2.55), (36, 2.87, 3.13), (36, 3.45, 3.65), (36, 3.84), (35, 0.68), (35, 0.88, 1.2),
            (35, 1.39), (35, 1.78), (35, 2.16), (35, 2.55, 2.94), (35, 3.58), (34, 0.55, 0.75), (34, 0.88, 1.26),
            (34, 2.04, 2.23), (34, 2.55, 2.81), (34, 3.65, 3.9), (33, 0.04), (33, 0.88, 1.13), (33, 1.26),
            (33, 1.84, 1.97), (33, 2.23), (33, 2.49, 2.87), (33, 3.26), (32, 0.62), (32, 0.88, 1.26), (32, 1.65),
            (32, 2.29, 2.49), (32, 2.68, 3.45), (31, 0.49, 0.68), (31, 0.88, 1.2), (31, 1.26, 1.39),
            (31, 1.97, 2.1), (31, 2.49, 2.81), (31, 3.45, 3.71), (30, 0.55), (30, 0.88, 1.13), (30, 1.39, 1.65),
            (30, 1.84), (30, 2.04, 2.16), (30, 2.42, 2.68), (30, 3.07), (30, 3.32), (29, 0.1), (29, 0.94, 1.26),
            (29, 1.39, 1.65), (29, 1.97, 2.29), (29, 2.62, 2.87), (29, 3.2, 3.45), (29, 3.71), (28, 0.23),
            (28, 0.81, 1.2), (28, 1.26, 1.65), (28, 2.23), (28, 2.55, 2.94), (28, 3.39, 3.58), (27, 0.17),
            (27, 0.55), (27, 0.88, 1.2), (27, 1.39, 1.78), (27, 2.36, 2.68), (27, 3.32, 3.45), (27, 3.84, 3.97),
            (26, 0.55, 0.75), (26, 0.88, 1.13), (26, 1.33, 1.65), (26, 2.04), (26, 2.42, 2.74), (26, 3.45),
            (25, 0.62), (25, 0.81, 1.2), (25, 1.78, 2.16), (25, 2.29, 2.62), (25, 2.94, 3.2), (25, 3.39, 3.84),
            (24, 0.75, 1.13), (24, 1.26, 1.39), (24, 1.78), (24, 2.42, 2.74), (24, 3.58), (23, 0.49),
            (23, 0.81, 1.13), (23, 1.52), (23, 1.91), (23, 2.16), (23, 2.55, 2.81), (22, 0.55), (22, 0.88, 1.2),
            (22, 1.39, 1.52), (22, 1.78, 2.04), (22, 2.55, 3.97), (21, 0.04), (21, 0.81, 1.13), (21, 2.29, 2.81),
            (21, 3.32), (20, 0.23), (20, 0.88, 1.2), (20, 1.39), (20, 1.71), (20, 2.29, 2.55), (20, 3.71),
            (19, 0.43), (19, 0.75, 1.13), (19, 1.33), (19, 1.97, 2.1), (19, 2.55, 2.81), (19, 3.2), (19, 3.71),
            (18, 0.04), (18, 0.81, 1.2), (18, 1.71), (18, 2.23, 2.42), (18, 2.62, 2.74), (18, 3.77),
            (17, 0.75, 1.07), (17, 1.33), (17, 1.78, 2.04), (17, 2.29, 2.68), (17, 3.45), (16, 0.49),
            (16, 0.81, 1.13), (16, 1.84), (16, 2.55, 3.07), (16, 3.71, 3.9), (15, 0.1), (15, 0.81, 1.2),
            (15, 1.33), (15, 1.78, 2.04), (15, 2.62, 3.07), (14, 0.36), (14, 0.81, 1.13), (14, 1.58), (14, 2.29),
            (14, 2.42), (14, 2.62), (14, 2.87), (14, 3.07, 3.32), (13, 0.55), (13, 0.81, 1.2), (13, 1.91, 2.16),
            (13, 2.55, 2.94), (13, 3.45), (12, 0.3), (12, 0.75, 1.13), (12, 1.39), (12, 1.78), (12, 2.29, 2.42),
            (12, 2.68, 2.87), (12, 3.2), (11, 0.68), (11, 0.81, 1.2), (11, 1.33), (11, 2.1, 2.29),
            (11, 2.49, 2.81), (11, 3.45), (10, 0.23), (10, 0.81, 1.13), (10, 1.58), (10, 1.97), (10, 2.55, 2.94),
            (10, 3.2, 3.45), (10, 3.84), (9, 0.1), (9, 0.43), (9, 0.75, 1.26), (9, 1.39), (9, 2.29, 2.68),
            (9, 2.87, 3.45), (8, 0.23), (8, 0.62), (8, 0.88, 1.33), (8, 1.97), (8, 2.55), (8, 3.07, 3.71),
            (7, 0.1), (7, 0.49, 0.68), (7, 0.88, 1.26), (7, 1.52), (7, 2.16, 2.42), (7, 2.81, 3.07),
            (7, 3.39, 3.71), (6, 0.04), (6, 0.75, 1.33), (6, 2.42), (6, 2.74), (6, 3.2, 3.97), (5, 0.23),
            (5, 0.81, 1.26), (5, 1.46), (5, 2.29), (5, 2.68, 3.45), (5, 3.71, 3.97), (4, 0.04, 0.3), (4, 0.55),
            (4, 0.81, 1.26), (4, 1.78), (4, 2.29, 2.81), (4, 3.2, 3.58), (3, 0.3), (3, 0.62, 1.2),
            (3, 1.78, 1.91), (3, 2.87, 3.32), (2, 0.04, 0.17), (2, 0.49, 0.81), (2, 1.0, 1.33), (2, 2.16, 2.42),
            (2, 2.81), (2, 3.13, 3.45), (2, 3.84), (1, 0.1), (1, 0.62, 1.0), (1, 1.13, 1.33), (1, 2.1), (1, 2.62)]

# ---------------- spike waveforms (mean per tetrode channel, arbitrary units) ----------------
a_wave = [[7, 24, 35, 25, 8, -8, -18, -17, -12, -6, -1, 2],
          [0, 14, 22, 14, 3, -5, -8, -6, -2, 2, 5, 8],
          [10, 42, 62, 40, 8, -20, -37, -33, -25, -17, -11, -7],
          [3, 22, 33, 22, 5, -10, -18, -16, -11, -6, -2, 0]]
a_sd = [7, 6, 8, 7]
b_wave = [[7, 28, 40, 25, 6, -10, -22, -27, -22, -12, -2, 7],
          [3, 30, 50, 30, 5, -15, -27, -32, -27, -16, -6, 0],
          [5, 30, 50, 30, 5, -12, -23, -27, -23, -14, -5, 3],
          [7, 35, 57, 35, 8, -12, -25, -30, -26, -18, -9, -3]]
b_sd = [6, 7, 7, 7]
c_wave = [[2, 25, 57, 22, -5, -25, -33, -35, -28, -18, -10, -5],
          [0, 14, 33, 12, -5, -18, -26, -28, -23, -14, -7, -3],
          [3, 30, 73, 28, -5, -27, -36, -38, -31, -20, -10, -5],
          [3, 25, 57, 22, -5, -26, -34, -37, -30, -19, -10, -5]]
c_sd = [8, 7, 9, 8]
d_wave = [[2, 20, 32, 22, 5, -10, -20, -25, -24, -15, -5, 2],
          [-2, 25, 62, 40, 10, -15, -35, -48, -50, -40, -15, 0],
          [1, 1, 1, 1, 1, 1, 1, 1, 1, 1, 1, 1],
          [-2, -2, -2, -2, -2, -2, -2, -2, -2, -2, -2, -2]]
d_sd = [6, 8, 0, 0]
d_stray = (27.3, -108)

fig = plt.figure(figsize=(W / 100, H / 100), dpi=100)


def fbox(x0, y0, x1, y1):
    return [x0 / W, 1 - y1 / H, (x1 - x0) / W, (y1 - y0) / H]


def ftext(x, y, s, **kw):
    fig.text(x / W, 1 - y / H, s, ha=kw.pop('ha', 'center'), va='center', fontsize=kw.pop('fontsize', FT), **kw)


def cell(rect, t, rate, spikes, rlim, rticks, elim, eticks, left_col, ylab_x=None, elab_x=None):
    ax = fig.add_axes(fbox(*rect))
    ax.plot(t, rate, color=RED, lw=9, solid_joinstyle='round', solid_capstyle='round')
    ax.set_xlim(0, 4)
    ax.set_ylim(0, rlim)
    ax.set_xticks([0, 1, 2, 3, 4])
    ax.set_yticks(rticks)
    ax2 = ax.twinx()
    ax2.set_ylim(0, elim)
    ax2.set_yticks(eticks)
    runs = [s for s in spikes if len(s) == 3]
    dots = [s for s in spikes if len(s) == 2]
    if runs:
        ax2.hlines([r[0] for r in runs], [r[1] for r in runs], [r[2] for r in runs], colors='k', lw=1.0,
                   linestyles=(0, (1.3, 1.9)))
    if dots:
        ax2.plot([d[1] for d in dots], [d[0] for d in dots], 's', ms=1.5, mew=0, color='k')
    ax.tick_params(axis='x', direction='in', top=True, length=4, pad=2, labelsize=FS, color='#222')
    ax.tick_params(axis='y', direction='in', left=True, right=True, length=4, colors=RED,
                   labelleft=left_col, labelright=False, labelsize=FS, pad=2)
    ax2.tick_params(axis='y', direction='in', length=4, colors='k', labelsize=FS, pad=2)
    ax.spines['left'].set_color(RED)
    ax.spines['top'].set_color('#333')
    ax.spines['bottom'].set_color('#111')
    ax.spines['right'].set_visible(False)
    for s in ['left', 'top', 'bottom']:
        ax2.spines[s].set_visible(False)
    ax2.spines['right'].set_color('#555')
    ax.set_xlabel('Seconds ' + MINUS + ' Trigger at 0 (s)', fontsize=FT, labelpad=0)
    if ylab_x is not None:
        ax.set_ylabel('Gaussian Smoothed Activity (Hz)', color=RED, fontsize=12.5, va='center')
        ax.yaxis.set_label_coords(ylab_x, 0.5)
    if elab_x is not None:
        ax2.set_ylabel('Event #', fontsize=FS, va='center', rotation=90)
        ax2.yaxis.set_label_coords(elab_x, 0.5)


def waveform(x0, x1, yref, wave, sd, extra=None):
    ax = fig.add_axes(fbox(x0, yref - 115, x1, yref + 115))
    for i, ch in enumerate(wave):
        xs = [i * 12.6 + j for j in range(len(ch))]
        ax.plot(xs, [v + sd[i] for v in ch], color='#909090', lw=1.6)
        ax.plot(xs, [v - sd[i] for v in ch], color='#909090', lw=1.6)
        ax.plot(xs, ch, color='#1a1a1a', lw=4.2, solid_capstyle='butt', solid_joinstyle='round')
    if extra is not None:
        ax.plot(extra[0], extra[1], 'D', color='k', ms=4.5)
    ax.set_xlim(0, 3 * 12.6 + 11)
    ax.set_ylim(-115, 115)
    ax.axis('off')


# ---------------- Panel A ----------------
cell((184, 94, 392, 305), a_l1_t, a_l1_r, a_l1_spk, 50, range(0, 51, 10), 31, range(0, 31, 5), True, -0.16)
cell((424, 94, 632, 305), a_r1_t, a_r1_r, a_r1_spk, 50, range(0, 51, 10), 13, range(0, 13, 2), False, None, 1.135)
cell((184, 388, 392, 600), a_l2_t, a_l2_r, a_l2_spk, 50, range(0, 51, 10), 31, range(0, 31, 5), True, -0.16)
cell((424, 388, 632, 600), a_r2_t, a_r2_r, a_r2_spk, 50, range(0, 51, 10), 13, range(0, 13, 2), False, None, 1.135)
# ---------------- Panel B ----------------
cell((733, 95, 941, 306), b_l1_t, b_l1_r, b_l1_spk, 20, range(0, 21, 5), 36, range(0, 31, 10), True, -0.15)
cell((964, 95, 1172, 306), b_r1_t, b_r1_r, b_r1_spk, 20, range(0, 21, 5), 11, range(0, 11, 2), False, None, 1.125)
cell((733, 388, 941, 600), b_l2_t, b_l2_r, b_l2_spk, 20, range(0, 21, 5), 36, range(0, 31, 10), True, -0.15)
cell((964, 388, 1172, 600), b_r2_t, b_r2_r, b_r2_spk, 20, range(0, 21, 5), 11, range(0, 11, 2), False, None, 1.125)
# ---------------- Panel C ----------------
cell((182, 896, 390, 1106), c_l1_t, c_l1_r, c_l1_spk, 5, range(0, 6), 18, range(0, 16, 5), True, -0.11)
cell((422, 896, 630, 1106), c_r1_t, c_r1_r, c_r1_spk, 5, range(0, 6), 44, range(0, 41, 10), False, None, 1.135)
cell((182, 1189, 390, 1400), c_l2_t, c_l2_r, c_l2_spk, 5, range(0, 6), 18, range(0, 16, 5), True, -0.11)
cell((422, 1189, 630, 1400), c_r2_t, c_r2_r, c_r2_spk, 5, range(0, 6), 44, range(0, 41, 10), False, None, 1.135)
# ---------------- Panel D ----------------
cell((743, 894, 952, 1106), d_l1_t, d_l1_r, d_l1_spk, 40, range(0, 41, 10), 9, range(0, 9, 2), True, -0.145)
cell((968, 894, 1175, 1106), d_r1_t, d_r1_r, d_r1_spk, 40, range(0, 41, 10), 42, range(0, 41, 10), False, None, 1.135)
cell((743, 1188, 952, 1400), d_l2_t, d_l2_r, d_l2_spk, 40, range(0, 41, 10), 8, range(0, 9, 2), True, -0.145)
cell((968, 1188, 1175, 1400), d_r2_t, d_r2_r, d_r2_spk, 40, range(0, 41, 10), 42, range(0, 41, 10), False, None, 1.135)

# titles
ftext(296, 60, 'R172' + MINUS + '2009' + MINUS + '07' + MINUS + '07' + MINUS + 'TT05_5')
ftext(297, 77, 'Left Reward Site 1 (Banana)')
ftext(538, 77, 'Right Reward Site 1 (Fruit)')
ftext(297, 372, 'Left Reward Site 2 (White)')
ftext(538, 372, 'Right Reward Site 2 (White)')
ftext(846, 62, 'R172' + MINUS + '2009' + MINUS + '07' + MINUS + '08' + MINUS + 'TT10_7')
ftext(848, 78, 'Left Reward Site 1 (Banana)')
ftext(1078, 78, 'Right Reward Site 1 (Fruit)')
ftext(847, 372, 'Left Reward Site 2 (White)')
ftext(1079, 372, 'Right Reward Site 2 (White)')
ftext(294, 860, 'R171' + MINUS + '2009' + MINUS + '05' + MINUS + '10' + MINUS + 'TT08_1')
ftext(296, 878, 'Left Reward Site 1 (Banana)')
ftext(536, 878, 'Right Reward Site 1 (Fruit)')
ftext(296, 1172, 'Left Reward Site 2 (White)')
ftext(537, 1172, 'Right Reward Site 2 (White)')
ftext(855, 860, 'R186' + MINUS + '2009' + MINUS + '09' + MINUS + '14' + MINUS + 'TT06_1')
ftext(858, 877, 'Left Reward Site 1 (Banana)')
ftext(1081, 877, 'Right Reward Site 1 (Fruit)')
ftext(857, 1172, 'Left Reward Site 2 (White)')
ftext(1082, 1172, 'Right Reward Site 2 (White)')

# cluster quality + waveforms
ftext(426, 656, 'LRatio = 0.02, ID = 42.25')
ftext(977, 662, 'LRatio = 0.07, ID = 28.03')
ftext(441, 1484, 'LRatio = 0.02, ID = 30.33')
ftext(972, 1477, 'LRatio = 0.17, ID = 18.83')
waveform(323, 491, 740, a_wave, a_sd)
waveform(881, 1024, 740, b_wave, b_sd)
waveform(319, 490, 1570, c_wave, c_sd)
waveform(875, 1043, 1560, d_wave, d_sd, d_stray)

# panel letters
for lx, ly, letter in [(154, 38, 'A'), (700, 37, 'B'), (162, 828, 'C'), (707, 828, 'D')]:
    ftext(lx, ly, letter, fontsize=13, fontweight='bold')

# frame and quadrant dividers
fig.add_artist(Rectangle((0.5 / W, 1 - 1741 / H), 1355 / W, 1734 / H, transform=fig.transFigure,
                         fill=False, edgecolor='#777777', lw=1))
fig.add_artist(Line2D([680 / W, 680 / W], [1 - 25 / H, 1 - 1665 / H], color='#1a1a1a', lw=4.3))
fig.add_artist(Line2D([137 / W, 1223 / W], [1 - 796 / H, 1 - 796 / H], color='#1a1a1a', lw=4.5))

ftext(9, 1725, 'FIGURE 8 | Continued', ha='left', fontsize=13.5, fontweight='bold',
      family=['Liberation Sans Narrow', 'Liberation Sans'])

fig.savefig('out.png', dpi=100)
